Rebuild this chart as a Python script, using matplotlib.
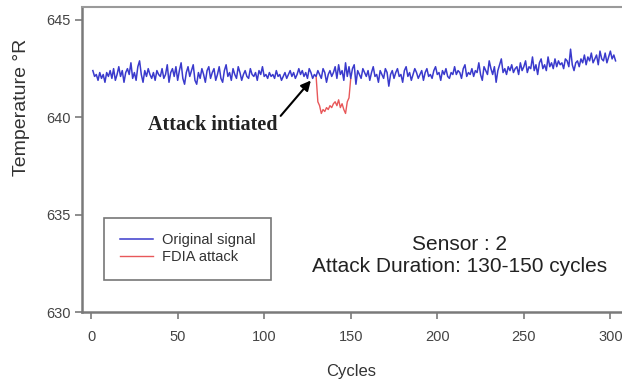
import matplotlib.pyplot as plt

plt.rcParams['font.family'] = ['Liberation Sans', 'DejaVu Sans']

# original sensor signal, one value per cycle (1..303)
signal = [
    642.4, 642.1, 642.2, 641.9, 642.3, 642.0, 642.2, 641.8, 642.3, 642.1,
    642.4, 642.0, 642.5, 641.9, 642.2, 642.6, 642.1, 642.4, 641.8, 642.3,
    642.5, 642.2, 642.8, 642.0, 642.3, 641.9, 642.6, 642.9, 642.2, 641.8,
    642.4, 642.1, 642.5, 642.2, 642.0, 642.3, 641.9, 642.4, 642.2, 642.1,
    642.5, 642.0, 642.2, 642.7, 641.8, 642.3, 642.5, 642.1, 642.6, 641.9,
    642.4, 642.8, 642.0, 641.7, 642.3, 642.6, 642.1, 642.4, 642.7, 641.9,
    641.7, 642.3, 642.0, 642.5, 642.2, 641.8, 642.4, 642.6, 642.0, 642.3,
    642.5, 641.9, 642.2, 642.6, 642.0, 641.8, 642.4, 642.7, 642.1, 642.3,
    641.9, 642.5, 642.2, 642.0, 642.6, 642.3, 641.9, 642.2, 642.4, 642.1,
    642.0, 642.5, 642.2, 642.1, 642.3, 641.9, 642.4, 642.2, 642.6, 642.1,
    642.2, 642.0, 642.3, 642.1, 642.2, 642.0, 642.4, 642.1, 642.2, 641.9,
    642.1, 642.3, 642.0, 642.2, 642.4, 642.1, 642.3, 642.0, 642.2, 642.5,
    642.2, 642.4, 642.1, 642.3, 642.0, 642.5, 642.3, 642.0, 642.2, 642.1,
    642.4, 642.2, 642.0, 642.5, 642.3, 641.8, 642.2, 642.4, 642.1, 642.3,
    642.6, 642.0, 642.7, 642.2, 642.4, 641.9, 642.8, 642.1, 642.6, 642.0,
    642.5, 642.7, 641.7, 642.4, 642.2, 642.0, 642.5, 642.3, 642.1, 642.4,
    641.9, 642.3, 642.6, 642.1, 642.2, 641.8, 642.4, 642.2, 642.0, 642.5,
    642.3, 641.6, 642.2, 642.4, 642.0, 642.3, 642.5, 642.1, 642.2, 641.8,
    642.4, 642.6, 642.1, 642.3, 641.9, 642.2, 642.5, 642.3, 642.0, 642.2,
    642.4, 641.9, 642.3, 642.5, 642.1, 642.2, 642.0, 642.4, 642.6, 642.2,
    642.3, 641.9, 642.4, 642.2, 642.5, 642.1, 642.0, 642.3, 642.2, 642.6,
    642.2, 642.4, 642.3, 642.0, 642.5, 642.7, 642.1, 642.3, 642.2, 642.5,
    642.1, 642.4, 642.3, 642.8, 642.2, 641.9, 642.6, 642.4, 642.2, 642.9,
    642.5, 642.2, 642.6, 641.8, 642.4, 642.7, 643.0, 642.3, 642.5, 642.2,
    642.6, 642.4, 642.7, 642.3, 642.5, 642.6, 642.2, 642.8, 642.4, 642.6,
    642.9, 642.3, 642.6, 642.5, 643.1, 642.4, 642.7, 642.2, 642.8, 643.0,
    642.5, 642.7, 642.4, 643.1, 642.6, 642.8, 642.5, 643.0, 642.6, 642.9,
    642.7, 642.8, 642.5, 643.0, 642.9, 642.6, 643.5, 642.7, 642.4, 642.8,
    642.9, 642.6, 643.0, 642.8, 643.2, 642.7, 643.1, 642.9, 643.3, 642.8,
    643.0, 643.2, 642.7, 643.4, 643.0, 642.9, 643.3, 642.8, 643.1, 643.4,
    643.0, 643.2, 642.9,
]
cycles = list(range(1, len(signal) + 1))

# injected FDIA values, cycles 130..150
attack_cycles = list(range(130, 151))
attack = [
    642.1, 640.8, 640.6, 640.2, 640.4, 640.3, 640.5, 640.4, 640.6, 640.5,
    640.7, 640.8, 640.6, 640.9, 640.5, 640.7, 640.4, 640.2, 640.8, 641.0,
    642.0,
]

fig = plt.figure(figsize=(6.22, 3.83), dpi=100)
ax = fig.add_axes([0.132, 0.185, 0.866, 0.797])

ax.plot(attack_cycles, attack, color='#e8585a', lw=1.0, label='FDIA attack', zorder=2)
ax.plot(cycles, signal, color='#3a3acc', lw=1.1, label='Original signal', zorder=3)

ax.set_xlim(-5.2, 306)
ax.set_ylim(630, 645.67)
ax.set_xticks([0, 50, 100, 150, 200, 250, 300])
ax.set_yticks([630, 635, 640, 645])

for side in ['left', 'bottom']:
    ax.spines[side].set_color('#7a7a7a')
    ax.spines[side].set_linewidth(1.8)
ax.spines['top'].set_color('#9a9a9a')
ax.spines['top'].set_linewidth(1.5)
ax.spines['right'].set_visible(False)
ax.tick_params(colors='#7a7a7a', labelcolor='#444444', labelsize=10.5,
               direction='out', length=5, width=1.2)
ax.tick_params(axis='x', pad=8)

ax.set_xlabel('Cycles', fontsize=12, color='#333333', labelpad=14)
ax.set_ylabel('Temperature \u00b0R', fontsize=14, color='#333333')
ax.yaxis.set_label_coords(-0.097, 0.67)

handles, labels = ax.get_legend_handles_labels()
leg = ax.legend(handles[::-1], labels[::-1], loc='upper left',
                bbox_to_anchor=(0.041, 0.308), borderaxespad=0,
                fontsize=10.5, frameon=True, fancybox=False,
                handlelength=2.3, borderpad=1.05, labelspacing=0.2,
                handletextpad=0.6)
leg.get_frame().set_edgecolor('#555555')
leg.get_frame().set_linewidth(1.2)
for t in leg.get_texts():
    t.set_color('#333333')

ax.text(213, 632.93, 'Sensor : 2\nAttack Duration: 130-150 cycles',
        ha='center', va='center', fontsize=15, color='#222222',
        linespacing=1.2)

ax.annotate('Attack intiated', xy=(128, 642.0), xytext=(70.5, 639.6),
            ha='center', va='center', fontsize=14.5, fontweight='bold',
            family=['Liberation Serif', 'DejaVu Serif'], color='#222222',
            arrowprops=dict(arrowstyle='-|>', color='black', lw=1.5,
                            shrinkA=0, shrinkB=2,
                            relpos=(1.0, 0.8)))

plt.savefig('out.png', dpi=100)
